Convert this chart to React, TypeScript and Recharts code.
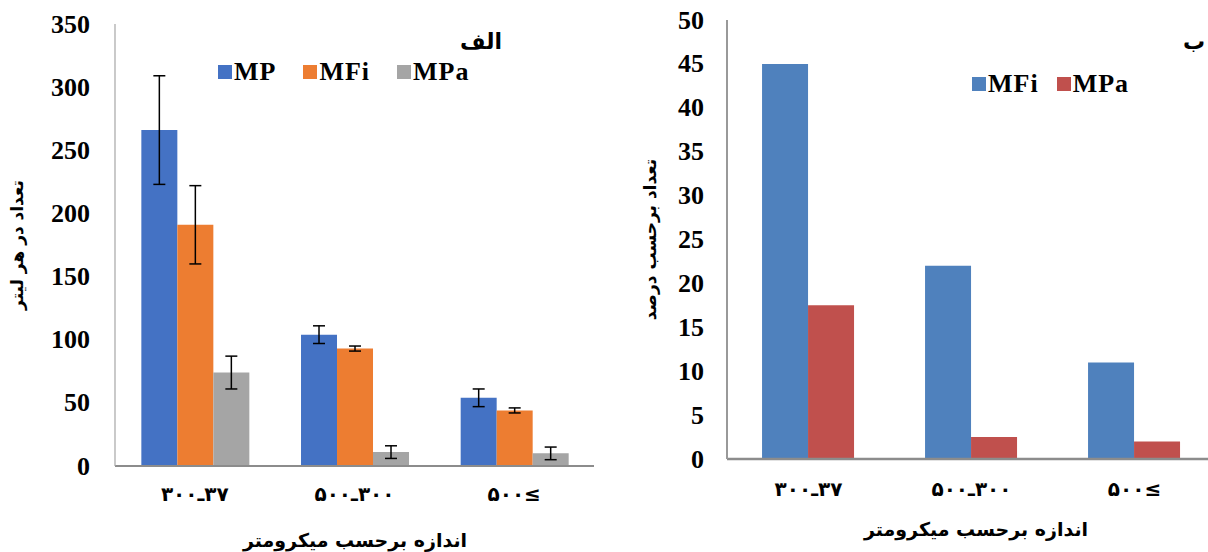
import { Bar, BarChart, ErrorBar, Legend, XAxis, YAxis } from "recharts";

// size classes (micrometre), written in visual order
const sizeClasses = ["۳۰۰ـ۳۷", "۵۰۰ـ۳۰۰", "۵۰۰≤"];

// chart الف: count per litre, with error
const mpCount = [266, 104, 54];
const mpErr = [43, 7, 7];
const mfiCount = [191, 93, 44];
const mfiErr = [31, 2, 2];
const mpaCount = [74, 11, 10];
const mpaErr = [13, 5, 5];
const countTicks = [0, 50, 100, 150, 200, 250, 300, 350];

// chart ب: percent
const mfiPercent = [45, 22, 11];
const mpaPercent = [17.5, 2.5, 2];
const percentTicks = [0, 5, 10, 15, 20, 25, 30, 35, 40, 45, 50];

const seriesOrder = ["MP", "MFi", "MPa"];

const countData = sizeClasses.map((name, i) => ({
  name,
  MP: mpCount[i],
  mpErr: mpErr[i],
  MFi: mfiCount[i],
  mfiErr: mfiErr[i],
  MPa: mpaCount[i],
  mpaErr: mpaErr[i],
}));

const percentData = sizeClasses.map((name, i) => ({
  name,
  MFi: mfiPercent[i],
  MPa: mpaPercent[i],
}));

const serif = "Liberation Serif";
const persian = "DejaVu Sans";

const YTick = ({ x, y, payload }: any) => (
  <text
    x={x}
    y={y}
    textAnchor="end"
    dominantBaseline="central"
    fill="#000"
    fontSize={26}
    fontWeight="bold"
    fontFamily={serif}
  >
    {payload.value}
  </text>
);

const XTick = ({ x, y, payload }: any) => (
  <text
    x={x}
    y={y}
    dy={15}
    textAnchor="middle"
    fill="#000"
    fontSize={20}
    fontWeight="bold"
    fontFamily={persian}
    style={{ unicodeBidi: "bidi-override", direction: "ltr" }}
  >
    {payload.value}
  </text>
);

const yTitle = (text: string, cx: number) => ({ viewBox }: any) => {
  const cy = viewBox.y + viewBox.height / 2;
  return (
    <text
      x={cx}
      y={cy}
      transform={`rotate(-90 ${cx} ${cy})`}
      textAnchor="middle"
      dominantBaseline="central"
      fill="#000"
      fontSize={17}
      fontWeight="bold"
      fontFamily={persian}
    >
      {text}
    </text>
  );
};

const xTitle = (text: string, cx: number, y: number) => () => (
  <text
    x={cx}
    y={y}
    textAnchor="middle"
    fill="#000"
    fontSize={19}
    fontWeight="bold"
    fontFamily={persian}
  >
    {text}
  </text>
);

const legendBox = (gap: number) => ({ payload }: any) => {
  const items = [...(payload || [])].sort(
    (a: any, b: any) => seriesOrder.indexOf(a.value) - seriesOrder.indexOf(b.value)
  );
  return (
    <div style={{ display: "flex", alignItems: "center" }}>
      {items.map((p: any) => (
        <div
          key={p.value}
          style={{ display: "flex", alignItems: "center", marginRight: gap }}
        >
          <span
            style={{
              display: "inline-block",
              width: 14,
              height: 14,
              background: p.color,
              marginRight: 2,
            }}
          />
          <span
            style={{
              fontFamily: serif,
              fontWeight: "bold",
              fontSize: 26,
              letterSpacing: 1,
              lineHeight: "28px",
              color: "#000",
            }}
          >
            {p.value}
          </span>
        </div>
      ))}
    </div>
  );
};

const titleStyle = {
  position: "absolute" as const,
  fontFamily: persian,
  fontWeight: "bold" as const,
  fontSize: 22,
  lineHeight: "26px",
  color: "#000",
};

export default function App() {
  return (
    <div
      style={{
        position: "absolute",
        left: 0,
        top: 0,
        width: 1208,
        height: 552,
        overflow: "hidden",
        background: "#fff",
      }}
    >
      {/* الف */}
      <div style={{ position: "absolute", left: 0, top: 0 }}>
        <BarChart
          width={600}
          height={552}
          data={countData}
          margin={{ top: 24, right: 6, bottom: 0, left: 0 }}
          barCategoryGap="16.5%"
          barGap={0}
        >
          <XAxis
            dataKey="name"
            height={86}
            interval={0}
            tickSize={0}
            tickMargin={20}
            tick={<XTick />}
            axisLine={{ stroke: "#8c8c8c", strokeWidth: 2 }}
            label={{ content: xTitle("اندازه برحسب میکرومتر", 355, 547) }}
          />
          <YAxis
            width={115}
            domain={[0, 350]}
            ticks={countTicks}
            interval={0}
            tickSize={0}
            tickMargin={25}
            tick={<YTick />}
            axisLine={{ stroke: "#a6a6a6", strokeWidth: 1.2 }}
            label={{ content: yTitle("تعداد در هر لیتر", 17) }}
          />
          <Legend
            layout="horizontal"
            verticalAlign="middle"
            align="center"
            content={legendBox(27)}
            wrapperStyle={{ left: 218, top: 58, width: "auto", height: "auto" }}
          />
          <Bar dataKey="MP" fill="#4472c4" isAnimationActive={false}>
            <ErrorBar dataKey="mpErr" width={6} stroke="#000" strokeWidth={1.5} />
          </Bar>
          <Bar dataKey="MFi" fill="#ed7d31" isAnimationActive={false}>
            <ErrorBar dataKey="mfiErr" width={6} stroke="#000" strokeWidth={1.5} />
          </Bar>
          <Bar dataKey="MPa" fill="#a5a5a5" isAnimationActive={false}>
            <ErrorBar dataKey="mpaErr" width={6} stroke="#000" strokeWidth={1.5} />
          </Bar>
        </BarChart>
      </div>

      {/* ب */}
      <div style={{ position: "absolute", left: 600, top: 0 }}>
        <BarChart
          width={616}
          height={552}
          data={percentData}
          margin={{ top: 20, right: 0, bottom: 0, left: 0 }}
          barCategoryGap="21.5%"
          barGap={0}
        >
          <XAxis
            dataKey="name"
            height={93}
            interval={0}
            tickSize={0}
            tickMargin={22}
            tick={<XTick />}
            axisLine={{ stroke: "#8c8c8c", strokeWidth: 2.5 }}
            label={{ content: xTitle("اندازه برحسب میکرومتر", 376, 536) }}
          />
          <YAxis
            width={127}
            domain={[0, 50]}
            ticks={percentTicks}
            interval={0}
            tickSize={0}
            tickMargin={23}
            tick={<YTick />}
            axisLine={{ stroke: "#999999", strokeWidth: 2 }}
            label={{ content: yTitle("تعداد برحسب درصد", 50) }}
          />
          <Legend
            layout="horizontal"
            verticalAlign="middle"
            align="center"
            content={legendBox(18)}
            wrapperStyle={{ left: 372, top: 70, width: "auto", height: "auto" }}
          />
          <Bar dataKey="MFi" fill="#4f81bd" isAnimationActive={false} />
          <Bar dataKey="MPa" fill="#c0504d" isAnimationActive={false} />
        </BarChart>
      </div>

      <div style={{ ...titleStyle, left: 460, top: 29 }}>الف</div>
      <div style={{ ...titleStyle, left: 1183, top: 29 }}>ب</div>
    </div>
  );
}
